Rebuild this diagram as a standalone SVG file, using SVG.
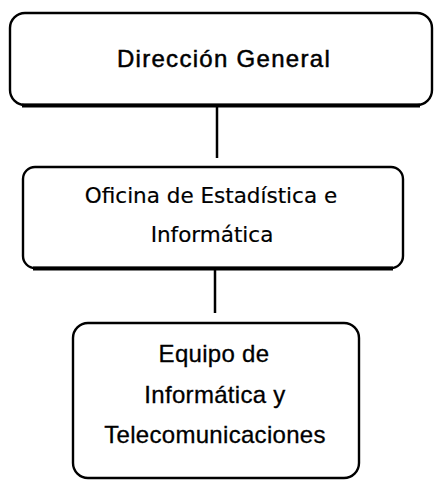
<svg xmlns="http://www.w3.org/2000/svg" width="434" height="480" viewBox="0 0 434 480">
<style>
.box{fill:#fff;stroke:#000;stroke-width:2.4}
.base{stroke:#000;stroke-width:4;fill:none}
.conn{stroke:#000;stroke-width:2.5;fill:none}
.t1{font-family:"Liberation Sans",Arial,sans-serif;font-size:24px;fill:#000;stroke:#000;stroke-width:0.5;text-anchor:middle;letter-spacing:1.3px}
.t2{font-family:"DejaVu Sans",Verdana,sans-serif;font-size:21.5px;fill:#000;stroke:#000;stroke-width:0.2;text-anchor:middle}
.t3{font-family:"Liberation Sans",Arial,sans-serif;font-size:24px;fill:#000;stroke:#000;stroke-width:0.3;text-anchor:middle;letter-spacing:0.3px}
</style>
<rect width="434" height="480" fill="#fff"/>
<g id="connectors">
<line class="conn" x1="217" y1="105" x2="217" y2="158"/>
<line class="conn" x1="215" y1="270" x2="215" y2="313"/>
</g>
<g id="direccion-general">
<rect class="box" x="10" y="13" width="422" height="92" rx="15"/>
<path class="base" d="M22 105.5 H420"/>
<text class="t1" x="224" y="67">Dirección General</text>
</g>
<g id="oficina-estadistica">
<rect class="box" x="23" y="167" width="380" height="101" rx="12"/>
<path class="base" d="M33 268.5 H393"/>
<text class="t2" x="211" y="203">Oficina de Estadística e</text>
<text class="t2" x="212" y="242">Informática</text>
</g>
<g id="equipo-informatica">
<rect class="box" x="73" y="323" width="286" height="155" rx="15"/>
<text class="t3" x="214" y="362">Equipo de</text>
<text class="t3" x="215" y="403">Informática y</text>
<text class="t3" x="215" y="443">Telecomunicaciones</text>
</g>
</svg>
